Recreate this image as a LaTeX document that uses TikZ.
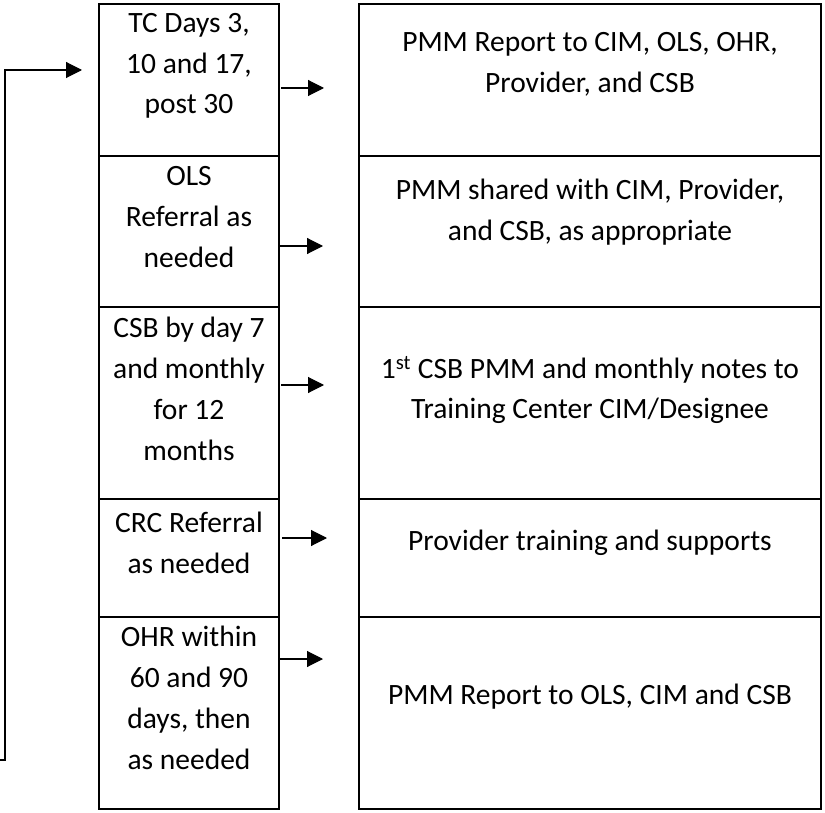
\documentclass[tikz,border=0pt]{standalone}
\usepackage{fontspec}
\setmainfont{Carlito}
\usetikzlibrary{arrows.meta}

\begin{document}
\begin{tikzpicture}[x=1pt, y=-1pt,
  cell/.style={draw, line width=1.5pt, rectangle, inner sep=0pt, outer sep=0pt},
  lbl/.style={align=center, inner sep=0pt, font=\fontsize{29.5pt}{40.8pt}\selectfont},
  arr/.style={-{Triangle[length=16pt,width=16pt]}, line width=1.1pt}]

\useasboundingbox (0,0) rectangle (825,813);

% Left column cells
\node[cell, minimum width=180pt, minimum height=152pt] (tc) at (189,80) {};
\node[cell, minimum width=180pt, minimum height=151pt] (ols) at (189,231.5) {};
\node[cell, minimum width=180pt, minimum height=192pt] (csb) at (189,403) {};
\node[cell, minimum width=180pt, minimum height=118pt] (crc) at (189,558) {};
\node[cell, minimum width=180pt, minimum height=192pt] (ohr) at (189,713) {};

% Right column cells
\node[cell, minimum width=462pt, minimum height=152pt] (repA) at (590,80) {};
\node[cell, minimum width=462pt, minimum height=151pt] (shared) at (590,231.5) {};
\node[cell, minimum width=462pt, minimum height=192pt] (notes) at (590,403) {};
\node[cell, minimum width=462pt, minimum height=118pt] (training) at (590,558) {};
\node[cell, minimum width=462pt, minimum height=192pt] (repB) at (590,713) {};

% Texts in the left column
\node[lbl] (tcT) at (189,66) {TC Days 3,\\10 and 17,\\post 30};
\node[lbl] (olsT) at (189,217) {OLS\\Referral as\\needed};
\node[lbl] (csbT) at (189,389) {CSB by day 7\\and monthly\\for 12\\months};
\node[lbl] (crcT) at (189,543) {CRC Referral\\as needed};
\node[lbl] (ohrT) at (189,698) {OHR within\\60 and 90\\days, then\\as needed};

% Texts in the right column
\node[lbl] (repAT) at (590,64) {PMM Report to CIM, OLS, OHR,\\Provider, and CSB};
\node[lbl] (sharedT) at (590,212) {PMM shared with CIM, Provider,\\and CSB, as appropriate};
\node[lbl] (notesT) at (590,390) {1\textsuperscript{st} CSB PMM and monthly notes to\\Training Center CIM/Designee};
\node[lbl] (trainingT) at (590,543) {Provider training and supports};
\node[lbl] (repBT) at (590,697) {PMM Report to OLS, CIM and CSB};

% Arrows between the columns
\draw[arr, shorten <=2pt, shorten >=35pt] ([yshift=-8pt]tc.east) -- ([yshift=-8pt]repA.west);
\draw[arr, shorten >=36pt] ([yshift=-14.5pt]ols.east) -- ([yshift=-14.5pt]shared.west);
\draw[arr, shorten <=2pt, shorten >=35pt] ([yshift=18pt]csb.east) -- ([yshift=18pt]notes.west);
\draw[arr, shorten <=3pt, shorten >=32pt] ([yshift=20pt]crc.east) -- ([yshift=20pt]training.west);
\draw[arr, shorten >=36pt] ([yshift=54pt]ohr.east) -- ([yshift=54pt]repB.west);

% Loop back to the top
\coordinate (loopEnd) at (0,760);
\draw[arr, shorten >=17pt] (loopEnd) -- ++(5,0) |- ([yshift=10pt]tc.west);

\end{tikzpicture}
\end{document}
